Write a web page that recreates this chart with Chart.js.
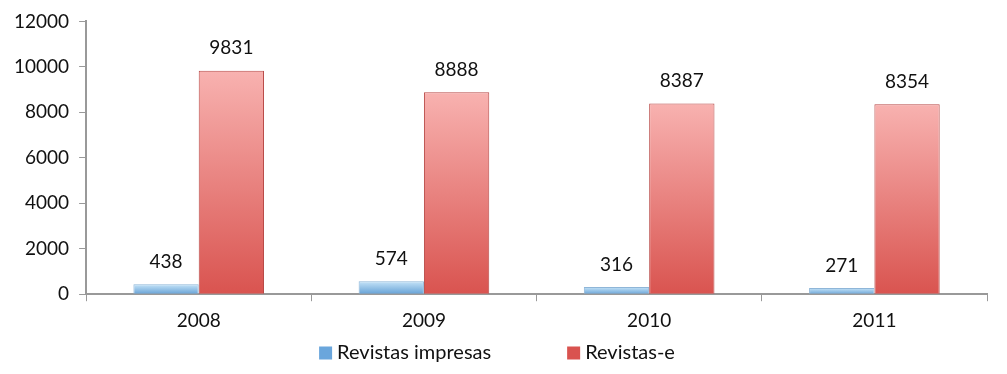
<!DOCTYPE html>
<html>
<head>
<meta charset="utf-8">
<script src="https://cdn.jsdelivr.net/npm/chart.js@4"></script>
<style>
  html, body { margin: 0; padding: 0; background: #fff; }
  #wrap { width: 1007px; height: 374px; }
</style>
</head>
<body>
<div id="wrap"><canvas id="chart"></canvas></div>
<script>
const years = [`2008`, `2009`, `2010`, `2011`];
const printed = [438, 574, 316, 271];
const electronic = [9831, 8888, 8387, 8354];
const seriesNames = [`Revistas impresas`, `Revistas-e`];
const legendFills = [`#6aa6dc`, `#d9534f`];

const FONT = `Lato, "Open Sans", sans-serif`;

const barGradient = (top, bottom) => (ctx) => {
  const chart = ctx.chart;
  if (!chart.chartArea || ctx.raw === undefined) {
    return bottom;
  }
  const y = chart.scales.y;
  const yTop = y.getPixelForValue(ctx.raw);
  const yBottom = y.getPixelForValue(0);
  const g = chart.ctx.createLinearGradient(0, yTop, 0, yBottom + 1);
  g.addColorStop(0, top);
  g.addColorStop(1, bottom);
  return g;
};

const valueLabels = {
  id: `valueLabels`,
  afterDatasetsDraw(chart) {
    const c = chart.ctx;
    c.save();
    c.font = `19px ${FONT}`;
    c.fillStyle = `#111`;
    c.textAlign = `center`;
    c.textBaseline = `bottom`;
    chart.data.datasets.forEach((ds, i) => {
      chart.getDatasetMeta(i).data.forEach((bar, j) => {
        c.fillText(ds.data[j], bar.x, bar.y - 13);
      });
    });
    c.restore();
  }
};

// legend drawn by hand so the gap between items can be wide without adding height
const bottomLegend = {
  id: `bottomLegend`,
  afterDraw(chart) {
    const c = chart.ctx;
    c.save();
    c.font = `20px ${FONT}`;
    c.textBaseline = `middle`;
    const gap = 76;
    const box = 13;
    let x = chart.chartArea.left + 233;
    const y = 353;
    seriesNames.forEach((name, i) => {
      c.fillStyle = legendFills[i];
      c.fillRect(x, y - box / 2, box, box);
      c.fillStyle = `#111`;
      c.fillText(name, x + box + 5, y);
      x += box + 5 + c.measureText(name).width + gap;
    });
    c.restore();
  }
};

new Chart(document.getElementById(`chart`), {
  type: `bar`,
  plugins: [valueLabels, bottomLegend],
  data: {
    labels: years,
    datasets: [
      {
        label: seriesNames[0],
        data: printed,
        backgroundColor: barGradient(`#c6e4f8`, `#5e9cd3`),
        borderColor: `#8fb6d8`,
        borderWidth: 1,
        categoryPercentage: 0.58,
        barPercentage: 1
      },
      {
        label: seriesNames[1],
        data: electronic,
        backgroundColor: barGradient(`#f8b2b0`, `#d9534f`),
        borderColor: `#b84a47`,
        borderWidth: 1,
        categoryPercentage: 0.58,
        barPercentage: 1
      }
    ]
  },
  options: {
    responsive: true,
    maintainAspectRatio: false,
    animation: false,
    layout: {padding: {top: 12, right: 20, left: 4, bottom: 34}},
    plugins: {
      tooltip: {enabled: false},
      legend: {display: false}
    },
    scales: {
      x: {
        grid: {drawOnChartArea: false, drawTicks: true, tickLength: 7, color: `#999`},
        border: {color: `#999`, width: 2},
        ticks: {font: {size: 19, family: FONT}, color: `#111`, padding: 8}
      },
      y: {
        min: 0,
        max: 12000,
        grid: {drawOnChartArea: false, drawTicks: true, tickLength: 7, color: `#999`},
        border: {color: `#999`, width: 2},
        ticks: {
          stepSize: 2000,
          font: {size: 19, family: FONT},
          color: `#111`,
          padding: 10,
          callback: (v) => String(v)
        }
      }
    }
  }
});
</script>
</body>
</html>
